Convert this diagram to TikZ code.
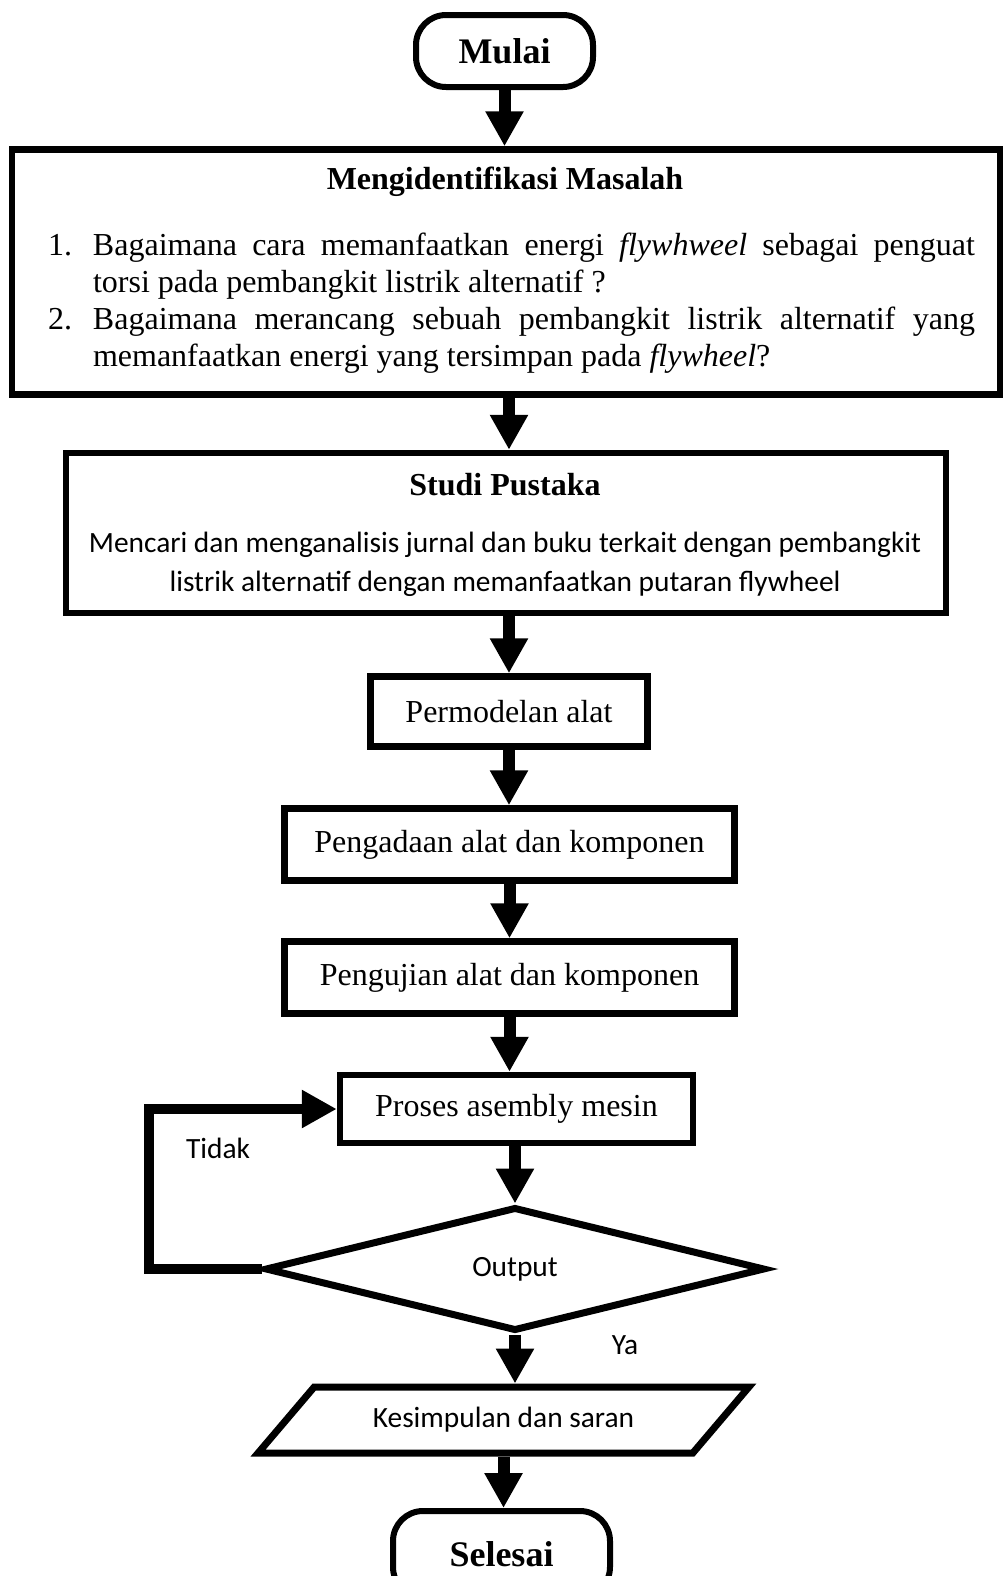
\documentclass[tikz,border=0pt]{standalone}
\usepackage{fontspec}
\setmainfont{Liberation Serif}
\newfontfamily\calib{Carlito}
\usetikzlibrary{arrows.meta,shapes.geometric}
\newcommand{\butir}[2]{\hangindent=22.5pt\hangafter=1\noindent\makebox[22.5pt][l]{#1}#2\par}

\begin{document}
\begin{tikzpicture}[x=0.5pt,y=-0.5pt,
  box/.style={draw,line width=3.25pt,inner sep=0pt,font=\fontsize{16}{19}\selectfont},
  term/.style={draw,line width=3pt,rounded corners=15pt,inner sep=0pt,font=\fontsize{18}{20}\selectfont\bfseries},
  judul/.style={inner sep=0pt,font=\fontsize{16}{19}\selectfont\bfseries},
  sans/.style={inner sep=0pt,font=\fontsize{14.7}{19.5}\calib},
  arr/.style={line width=6pt,-{Triangle[length=17.5pt,width=18pt]}},
  backarr/.style={line width=5pt,-{Triangle[length=17.5pt,width=18pt]}}]
        \useasboundingbox (0,0) rectangle (1003,1576);
        \clip (0,0) rectangle (1003,1576);
        \node[term,minimum width=88.5pt,minimum height=36pt] (mulai) at (504.5,51) {Mulai};
        \node[box,minimum width=494pt,minimum height=122.5pt] (masalah) at (506,272) {};
        \node[judul] (judul1) at (505,182) {Mengidentifikasi Masalah};
        \node[anchor=north,text width=463.5pt,align=justify,inner sep=0pt,font=\fontsize{16}{18.5}\selectfont] (daftar) at (511.5,233) {%
          \butir{1.}{Bagaimana cara memanfaatkan  energi \textit{flywhweel} sebagai  penguat\linebreak torsi pada pembangkit listrik alternatif ?}%
          \butir{2.}{Bagaimana  merancang  sebuah pembangkit listrik alternatif yang\linebreak memanfaatkan energi yang tersimpan pada  \textit{flywheel}?}};
        \node[box,minimum width=440pt,minimum height=80pt] (pustaka) at (506,533) {};
        \node[judul] (judul2) at (505,485) {Studi Pustaka};
        \node[sans,align=center] (cari) at (505,564) {Mencari dan menganalisis jurnal dan buku terkait dengan pembangkit\\listrik alternatif dengan memanfaatkan putaran flywheel};
        \node[box,minimum width=138.5pt,minimum height=35pt] (model) at (509,711.5) {Permodelan alat};
        \node[box,minimum width=225pt,minimum height=36pt] (adaan) at (509.5,844.5) {Pengadaan alat dan komponen};
        \node[box,minimum width=225pt,minimum height=36pt] (uji) at (509.5,977.5) {Pengujian alat dan komponen};
        \node[box,minimum width=176.5pt,minimum height=34pt] (asembly) at (516.5,1109) {Proses asembly mesin};
        \node[draw,diamond,line width=3.5pt,aspect=4,inner sep=0pt,minimum width=250pt,minimum height=62pt,sans] (output) at (515,1269) {Output};
        \node[draw,trapezium,trapezium left angle=33,trapezium right angle=147,trapezium stretches=true,line width=3.5pt,inner sep=0pt,minimum width=246pt,minimum height=33pt,sans] (simpul) at (503.5,1420) {Kesimpulan dan saran};
        \node[term,minimum width=108.5pt,minimum height=43pt] (selesai) at (501.5,1554) {Selesai};
        \node[sans] (tidak) at (218,1148) {Tidak};
        \node[sans] (ya) at (625,1345) {Ya};
        \draw[arr] (mulai.south) -- (mulai.south |- masalah.north);
        \draw[arr] (masalah.south -| model) -- (model |- pustaka.north);
        \draw[arr] (pustaka.south -| model) -- (model.north);
        \draw[arr] (model.south) -- (model.south |- adaan.north);
        \draw[arr] (adaan.south) -- (uji.north);
        \draw[arr] (uji.south) -- (uji.south |- asembly.north);
        \draw[arr] (asembly.south -| output) -- (output.north);
        \draw[arr] (output.south) -- (output.south |- simpul.north);
        \draw[arr] (simpul.south) -- (simpul.south |- selesai.north);
        \draw[backarr] (output.west) -- ++(-113,0) |- (asembly.west);
\end{tikzpicture}
\end{document}
